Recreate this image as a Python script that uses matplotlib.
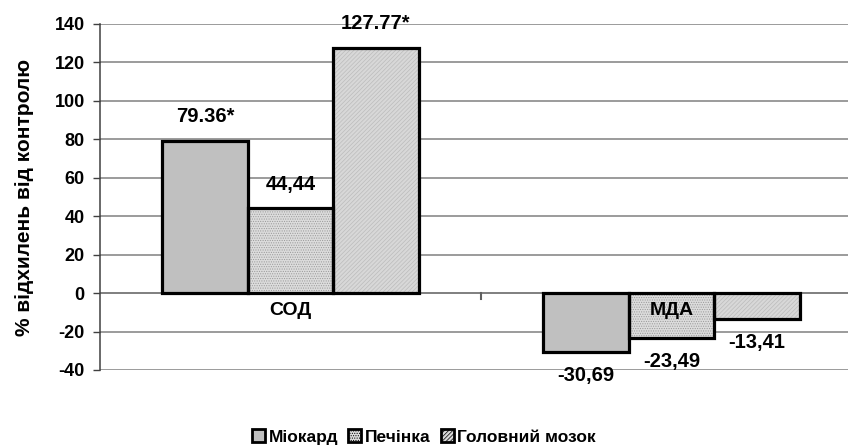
import matplotlib.pyplot as plt
import numpy as np

plt.rcParams['font.family'] = ['Liberation Sans', 'DejaVu Sans']
plt.rcParams['font.weight'] = 'bold'
plt.rcParams['axes.unicode_minus'] = False
plt.rcParams['hatch.linewidth'] = 0.5

# data
categories = ['СОД', 'МДА']
series = ['Міокард', 'Печінка', 'Головний мозок']
sod = [79.36, 44.44, 127.77]
mda = [-30.69, -23.49, -13.41]
labels_sod = ['79.36*', '44,44', '127.77*']
labels_mda = ['-30,69', '-23,49', '-13,41']

faces = ['#c0c0c0', '#dcdcdc', '#d8d8d8']
hatches = [None, '.......', '////////']
hatch_cols = ['#c0c0c0', '#9a9a9a', '#bcbcbc']

fig = plt.figure(figsize=(8.48, 4.47), dpi=100)
ax = fig.add_axes([100 / 848, 77 / 447, 762 / 848, 346 / 447])

x = np.arange(len(categories))
w = 0.2244
vals = np.array([sod, mda]).T  # rows = series
labs = np.array([labels_sod, labels_mda]).T

for i in range(3):
    pos = x + (i - 1) * w
    ax.bar(pos, vals[i], w, color=faces[i], hatch=hatches[i],
           edgecolor=hatch_cols[i], linewidth=0, zorder=2)
    ax.bar(pos, vals[i], w, fill=False, edgecolor='black', linewidth=2.3, zorder=3)
    ax.bar([0], [0], 0, color=faces[i], hatch=hatches[i], edgecolor='black',
           linewidth=2.0, label=series[i])
    for p, v, t in zip(pos, vals[i], labs[i]):
        off = 17 if v > 0 else -17
        ax.annotate(t, (p, v), xytext=(0, off), textcoords='offset points',
                    ha='center', va='center', fontsize=14.5, fontweight='bold', zorder=4)

ax.set_xlim(-0.5, 1.5)
ax.set_ylim(-40, 140)
ax.set_yticks(range(-40, 141, 20))
ax.tick_params(axis='y', length=5, width=1, pad=6, labelsize=13, color='#404040')
ax.set_xticks([])
for t in ax.get_yticklabels():
    t.set_fontweight('bold')
ax.yaxis.grid(True, color='#808080', linewidth=1.1, zorder=0)
ax.set_axisbelow(True)
for s in ['top', 'right', 'bottom']:
    ax.spines[s].set_visible(False)
ax.spines['left'].set_color('#404040')
ax.spines['left'].set_linewidth(1.1)

# zero axis line with divider tick
ax.axhline(0, color='#808080', linewidth=1.3, zorder=1)
ax.plot([0.5, 0.5], [0, -3], color='#606060', linewidth=1.5, zorder=1)

# category labels
for xi, c in zip(x, categories):
    ax.text(xi, -9, c, ha='center', va='center', fontsize=14, fontweight='bold', zorder=5)

ax.set_ylabel('% відхилень від контролю', fontsize=15, fontweight='bold')
ax.yaxis.set_label_coords(-0.086, 0.5)

fig.legend(loc='center', bbox_to_anchor=(424 / 848, 1 - 437 / 447), ncol=3,
           frameon=False, prop={'weight': 'bold', 'size': 12.5},
           handlelength=0.75, handleheight=0.75, handletextpad=0.2, columnspacing=0.6)

plt.savefig('out.png', dpi=100)
